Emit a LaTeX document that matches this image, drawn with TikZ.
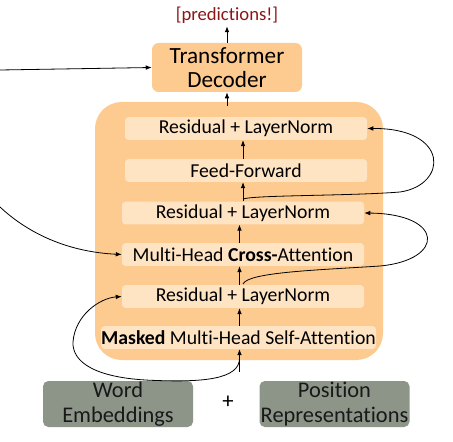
\documentclass[tikz,border=0pt]{standalone}
\usepackage{fontspec}
\setmainfont{Carlito}[Ligatures=NoCommon]
\usetikzlibrary{arrows.meta,calc}
\definecolor{orangebig}{RGB}{253,202,143}
\definecolor{orangein}{RGB}{255,228,196}
\definecolor{grayemb}{RGB}{141,149,137}
\definecolor{predred}{RGB}{140,21,21}
\begin{document}
\begin{tikzpicture}[x=0.75pt,y=-0.75pt,
  bigbox/.style={fill=orangebig, rounded corners=20pt, inner sep=0pt},
  inbox/.style={fill=orangein, rounded corners=2.5pt, minimum width=181.5pt, minimum height=17pt, inner sep=0pt, font=\fontsize{14.8}{16}\selectfont},
  decbox/.style={fill=orangebig, rounded corners=5pt, minimum width=112.5pt, minimum height=36.75pt, inner sep=0pt, align=center, font=\fontsize{17.4}{17.5}\selectfont},
  embbox/.style={fill=grayemb, rounded corners=4pt, minimum width=112.5pt, minimum height=34.5pt, inner sep=0pt, align=center, text=black!90, font=\fontsize{16.8}{18.5}\selectfont},
  arr/.style={-{Latex[length=4.5pt,width=3.5pt]}, line width=0.7pt},
  curv/.style={-{Latex[length=4.5pt,width=3.5pt]}, line width=0.6pt}]
\useasboundingbox (0,0) rectangle (453,442);

\node[bigbox, minimum width=216pt, minimum height=193.5pt] (big) at (239,231) {};

\node[inbox] (rln3) at (246,128.5) {Residual + LayerNorm};
\node[inbox] (ff) at (246,170.5) {Feed-Forward};
\node[inbox] (rln2) at (243,213) {Residual + LayerNorm};
\node[inbox] (cross) at (243,254.5) {Multi-Head \textbf{Cross-}Attention};
\node[inbox] (rln1) at (243,296.5) {Residual + LayerNorm};
\node[inbox, minimum width=206.25pt] (masked) at (238.5,337.5) {\textbf{Masked} Multi-Head Self-Attention};

\node[decbox] (dec) at (227,67.5) {Transformer\\Decoder};
\node[font=\fontsize{14}{16}\selectfont, text=predred, inner sep=2pt] (pred) at (227,15) {[predictions!]};

\node[embbox] (word) at (118,404) {Word\\Embeddings};
\node[embbox] (pos) at (334.5,404) {Position\\Representations};
\node[font=\fontsize{17}{19}\selectfont] (plus) at (228,402) {+};

\coordinate (axa) at (239.5,0);
\coordinate (axb) at (243,0);
\coordinate (in) at (239.5,372);
\coordinate (res1) at (239.5,358);
\coordinate (res2) at (243,284);
\coordinate (res3) at (243,199);
\coordinate (enc1) at (0,70);
\coordinate (enc2) at (0,207);

% vertical flow
\draw[arr] (in) -- (masked.south -| axa);
\draw[arr] (masked.north -| axa) -- (rln1.south -| axa);
\draw[arr] (rln1.north -| axa) -- (cross.south -| axa);
\draw[arr] (cross.north -| axa) -- (rln2.south -| axa);
\draw[arr] (rln2.north -| axb) -- (ff.south -| axb);
\draw[arr] (ff.north -| axb) -- (rln3.south -| axb);
\draw[arr] ($(big.north -| dec)+(0,4)$) -- (dec.south);
\draw[arr] (dec.north) -- (pred.south);

% residual loops
\draw[curv] (res1) .. controls (240,380) and (200,382) .. (157,380.5)
  .. controls (95,379) and (72,362) .. (73,342)
  .. controls (75,315) and (100,298) .. (rln1.west);
\draw[curv] (res2) .. controls (248,272) and (320,270) .. (380,266)
  .. controls (445,260) and (445,214) .. (rln2.east);
\draw[curv] (res3) .. controls (255,195) and (350,196) .. (400,192)
  .. controls (448,185) and (450,128) .. (rln3.east);

% encoder inputs
\draw[curv] (enc1) -- (dec.west);
\draw[curv] (enc2) .. controls (30,235) and (70,252) .. (cross.west);
\end{tikzpicture}
\end{document}
